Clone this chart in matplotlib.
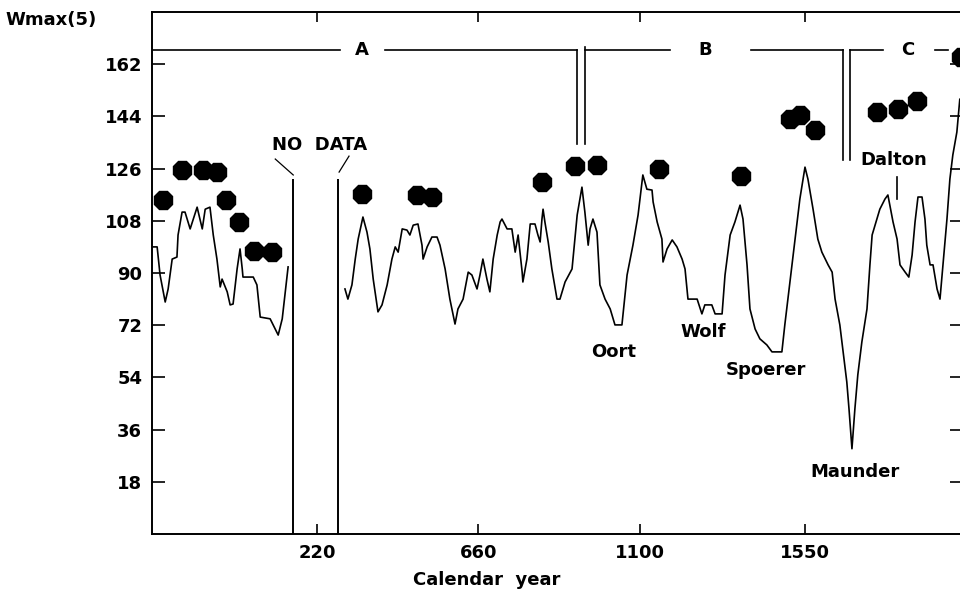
import numpy as np
import matplotlib
matplotlib.use("Agg")
import matplotlib.pyplot as plt

# Wmax(5) curve, before the data gap
years_early = [-227, -216, -208, -194, -186, -175, -162, -159, -148, -140, -126, -107, -93, -85,
               -72, -63, -53, -44, -39, -25, -17, -9, 2, 10, 16, 18, 46, 56, 65, 92, 114, 125, 141]
wmax_early = [99.0, 99.0, 89.3, 80.0, 84.5, 94.8, 95.5, 103.1, 111.0, 111.0, 105.2, 112.7, 105.2, 112.0,
              112.7, 103.1, 94.8, 85.2, 87.9, 83.5, 79.0, 79.3, 91.4, 98.3, 91.4, 88.6, 88.6, 85.9,
              74.8, 74.2, 68.6, 74.2, 92.1]

# Wmax(5) curve, after the data gap
years_late = [296, 304, 315, 324, 332, 345, 356, 364, 373, 386, 397, 411, 424, 433, 441, 452, 465, 473,
              482, 495, 506, 509, 520, 533, 547, 555, 569, 582, 596, 604, 618, 632, 642, 656, 664, 672,
              683, 691, 700, 711, 719, 724, 738, 751, 760, 768, 779, 781, 792, 801, 814, 822, 828, 833,
              836, 841, 850, 860, 874, 882, 896, 915, 929, 942, 950, 959, 964, 972, 983, 991, 1005,
              1019, 1032, 1051, 1065, 1081, 1095, 1108, 1119, 1133, 1136, 1147, 1160, 1163, 1174, 1188,
              1201, 1215, 1223, 1231, 1256, 1269, 1277, 1296, 1305, 1324, 1332, 1346, 1359, 1373, 1381,
              1392, 1400, 1414, 1427, 1446, 1460, 1487, 1495, 1509, 1523, 1536, 1550, 1558, 1572, 1585,
              1596, 1613, 1624, 1632, 1645, 1654, 1664, 1670, 1678, 1686, 1694, 1705, 1719, 1727, 1733,
              1741, 1754, 1768, 1776, 1790, 1801, 1809, 1823, 1833, 1842, 1850, 1858, 1869, 1877, 1882,
              1891, 1899, 1910, 1918, 1926, 1937, 1945, 1953, 1964, 1972]
wmax_late = [84.5, 81.0, 85.9, 94.8, 101.7, 109.3, 104.1, 98.3, 87.9, 76.6, 79.0, 85.9, 94.8, 99.0, 97.2,
             105.2, 104.8, 103.1, 106.5, 106.9, 99.6, 94.8, 99.0, 102.4, 102.4, 99.6, 91.4, 81.0, 72.4,
             77.6, 81.0, 90.3, 89.3, 84.5, 89.3, 94.8, 87.9, 83.5, 94.8, 103.1, 107.6, 108.6, 105.2,
             105.2, 97.2, 103.1, 90.3, 86.9, 94.8, 106.9, 106.9, 103.1, 100.7, 108.6, 112.0, 107.6,
             100.7, 91.4, 81.0, 81.0, 86.9, 91.4, 110.0, 119.6, 111.0, 99.6, 105.2, 108.6, 104.1, 85.9,
             81.0, 77.6, 72.1, 72.1, 89.3, 99.6, 110.0, 123.8, 118.9, 118.6, 114.5, 107.6, 101.7, 93.8,
             98.3, 101.4, 99.0, 94.8, 91.4, 81.0, 81.0, 75.9, 79.0, 79.0, 75.9, 75.9, 89.3, 103.1, 107.6,
             113.4, 108.6, 92.8, 77.6, 70.7, 67.3, 65.2, 62.8, 62.8, 72.1, 86.9, 101.7, 115.5, 126.5,
             122.4, 112.0, 101.7, 97.2, 92.8, 90.3, 81.0, 72.1, 62.8, 52.4, 43.1, 29.4, 43.1, 54.9, 66.2,
             77.6, 92.8, 103.1, 106.5, 112.0, 115.5, 116.9, 107.6, 101.7, 92.8, 90.3, 88.6, 96.2, 107.6,
             116.2, 116.2, 108.6, 99.6, 92.8, 92.8, 84.5, 81.0, 92.8, 108.6, 122.4, 130.7, 138.6, 149.9]

# dots
dot_years = [-200, -148, -91, -53, -28, 7, 48, 97, 343, 493, 533, 833, 923, 983, 1152, 1376,
             1509, 1536, 1577, 1746, 1803, 1855, 1975]
dot_wmax = [115.1, 125.5, 125.5, 124.8, 115.1, 107.6, 97.6, 97.2, 117.2, 116.9, 116.2, 121.3, 126.9,
            127.2, 125.8, 123.4, 143.1, 144.4, 139.3, 145.5, 146.5, 149.3, 164.4]

# named minima
minima = ["Oort", "Wolf", "Spoerer", "Maunder", "Dalton"]
minima_years = [1027, 1272, 1444, 1686, 1792]
minima_wmax = [62.8, 69.7, 56.6, 21.4, 128.9]

yticks = [18, 36, 54, 72, 90, 108, 126, 144, 162]
xticks = [220, 660, 1100, 1550]

font = dict(family="DejaVu Sans", fontweight="bold", fontsize=13)

fig = plt.figure(figsize=(9.6, 6.0), dpi=100)
ax = fig.add_axes([152 / 960, 66 / 600, 810 / 960, 522 / 600])

ax.plot(years_early, wmax_early, color="black", lw=1.2)
ax.plot(years_late, wmax_late, color="black", lw=1.2)
ax.plot(dot_years, dot_wmax, linestyle="none", marker="8", ms=14, color="black")

# no data gap
ax.vlines([155, 277], 0, 122.4, color="black", lw=1.4)
ax.plot([106, 155], [129.3, 123.8], color="black", lw=0.9)
ax.plot([307, 280], [130.3, 124.8], color="black", lw=0.9)
ax.text(228, 134.1, "NO  DATA", ha="center", va="center", **font)

# epochs A, B, C along the top
yb = 166.8
ax.plot([-230, 283], [yb, yb], color="black", lw=1.2)
ax.plot([405, 929], [yb, yb], color="black", lw=1.2)
ax.plot([929, 929], [yb, 134.4], color="black", lw=1.2)
ax.plot([950, 950], [167.8, 134.4], color="black", lw=1.2)
ax.plot([950, 1182], [yb, yb], color="black", lw=1.2)
ax.plot([1403, 1654], [yb, yb], color="black", lw=1.2)
ax.plot([1654, 1654], [yb, 128.9], color="black", lw=1.2)
ax.plot([1673, 1673], [yb, 128.9], color="black", lw=1.2)
ax.plot([1673, 1763], [yb, yb], color="black", lw=1.2)
ax.plot([1904, 1940], [yb, yb], color="black", lw=1.2)
ax.text(343, yb, "A", ha="center", va="center", **font)
ax.text(1277, yb, "B", ha="center", va="center", **font)
ax.text(1831, yb, "C", ha="center", va="center", **font)

for name, yr, w in zip(minima, minima_years, minima_wmax):
    ax.text(yr, w, name, ha="center", va="center", **font)
ax.plot([1800, 1800], [123.0, 115.5], color="black", lw=1.2)

ax.set_xlim(-230, 1978)
ax.set_ylim(0, 180)
ax.set_xticks(xticks)
ax.set_yticks(yticks)
ax.tick_params(direction="in", top=True, right=True, width=1.2, labelsize=13)
ax.tick_params(axis="y", length=9, pad=7)
ax.tick_params(axis="x", length=7, pad=7)
for lab in ax.get_xticklabels() + ax.get_yticklabels():
    lab.set_fontweight("bold")
for sp in ax.spines.values():
    sp.set_linewidth(1.4)

fig.text(5 / 960, 1 - 20 / 600, "Wmax(5)", ha="left", va="center", **font)
fig.text(487 / 960, 1 - 580 / 600, "Calendar  year", ha="center", va="center", **font)

fig.savefig("out.png", dpi=100)
